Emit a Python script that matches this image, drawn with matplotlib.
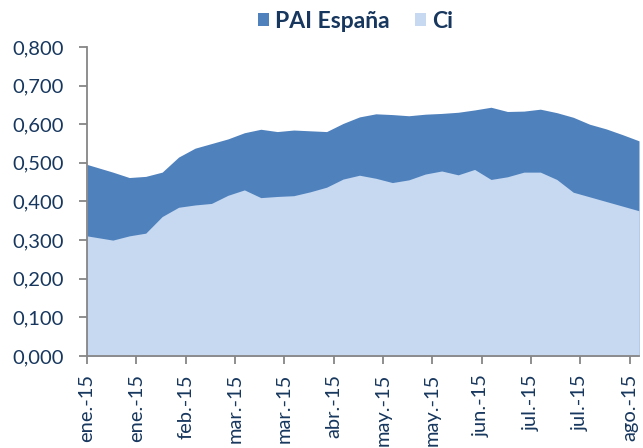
import matplotlib
matplotlib.use("Agg")
import matplotlib.pyplot as plt
import matplotlib.dates as mdates
import pandas as pd

# semanas (fechas de cada dato)
fechas = ["2015-01-01", "2015-01-12", "2015-01-19", "2015-01-26", "2015-02-02",
          "2015-02-09", "2015-02-16", "2015-02-23", "2015-03-02", "2015-03-09",
          "2015-03-16", "2015-03-23", "2015-03-30", "2015-04-06", "2015-04-13",
          "2015-04-20", "2015-04-27", "2015-05-04", "2015-05-11", "2015-05-18",
          "2015-05-25", "2015-06-01", "2015-06-08", "2015-06-15", "2015-06-22",
          "2015-06-29", "2015-07-06", "2015-07-13", "2015-07-20", "2015-07-27",
          "2015-08-03", "2015-08-10", "2015-08-17", "2015-08-24"]

pai_espana = [0.496, 0.476, 0.462, 0.465, 0.476, 0.515, 0.538, 0.550, 0.562, 0.578,
              0.587, 0.581, 0.585, 0.583, 0.581, 0.602, 0.619, 0.627, 0.625, 0.622,
              0.626, 0.628, 0.631, 0.637, 0.644, 0.633, 0.634, 0.639, 0.630, 0.618,
              0.600, 0.588, 0.573, 0.557]

ci = [0.311, 0.300, 0.311, 0.318, 0.361, 0.385, 0.391, 0.395, 0.416, 0.430,
      0.410, 0.413, 0.415, 0.425, 0.437, 0.458, 0.468, 0.460, 0.449, 0.456,
      0.471, 0.479, 0.469, 0.483, 0.457, 0.464, 0.476, 0.476, 0.457, 0.424,
      0.412, 0.400, 0.388, 0.376]

# marcas del eje x (cada 21 dias)
tick_fechas = ["2015-01-01", "2015-01-22", "2015-02-12", "2015-03-05", "2015-03-26",
               "2015-04-16", "2015-05-07", "2015-05-28", "2015-06-18", "2015-07-09",
               "2015-07-30", "2015-08-20"]
tick_labels = ["ene.-15", "ene.-15", "feb.-15", "mar.-15", "mar.-15", "abr.-15",
               "may.-15", "may.-15", "jun.-15", "jul.-15", "jul.-15", "ago.-15"]

yticks = [0.0, 0.1, 0.2, 0.3, 0.4, 0.5, 0.6, 0.7, 0.8]

azul = "#4F81BD"
azul_claro = "#C6D9F1"
texto = "#17375E"
gris = "#868686"

plt.rcParams['font.family'] = ['Lato', 'DejaVu Sans']

x = mdates.date2num(pd.to_datetime(fechas))
xt = mdates.date2num(pd.to_datetime(tick_fechas))

fig = plt.figure(figsize=(6.43, 4.48), dpi=100)
ax = fig.add_axes([0.1353, 0.2054, 0.8585, 0.6897])

ax.fill_between(x, 0, pai_espana, color=azul, linewidth=0, label="PAI España")
ax.fill_between(x, 0, ci, color=azul_claro, linewidth=0, label="Ci")

ax.set_xlim(x[0], x[-1])
ax.set_ylim(0, 0.8)
ax.set_yticks(yticks)
ax.set_yticklabels([f"{v:.3f}".replace(".", ",") for v in yticks])
ax.set_xticks(xt)
ax.set_xticklabels(tick_labels, rotation=90)

for s in ["top", "right"]:
    ax.spines[s].set_visible(False)
for s in ["left", "bottom"]:
    ax.spines[s].set_color(gris)
    ax.spines[s].set_linewidth(1.3)

ax.tick_params(axis="both", colors=gris, width=1.3, length=6, labelcolor=texto, labelsize=14.5)
ax.tick_params(axis="y", pad=11)
ax.tick_params(axis="x", pad=7)

ax.legend(loc="center", bbox_to_anchor=(0.486, 1.084), ncol=2, frameon=False,
          prop={"weight": "bold", "size": 16.5}, labelcolor=texto,
          handlelength=0.5, handleheight=0.5, handletextpad=0.25, columnspacing=1.1,
          borderaxespad=0, borderpad=0)

fig.savefig("out.png", dpi=100)
